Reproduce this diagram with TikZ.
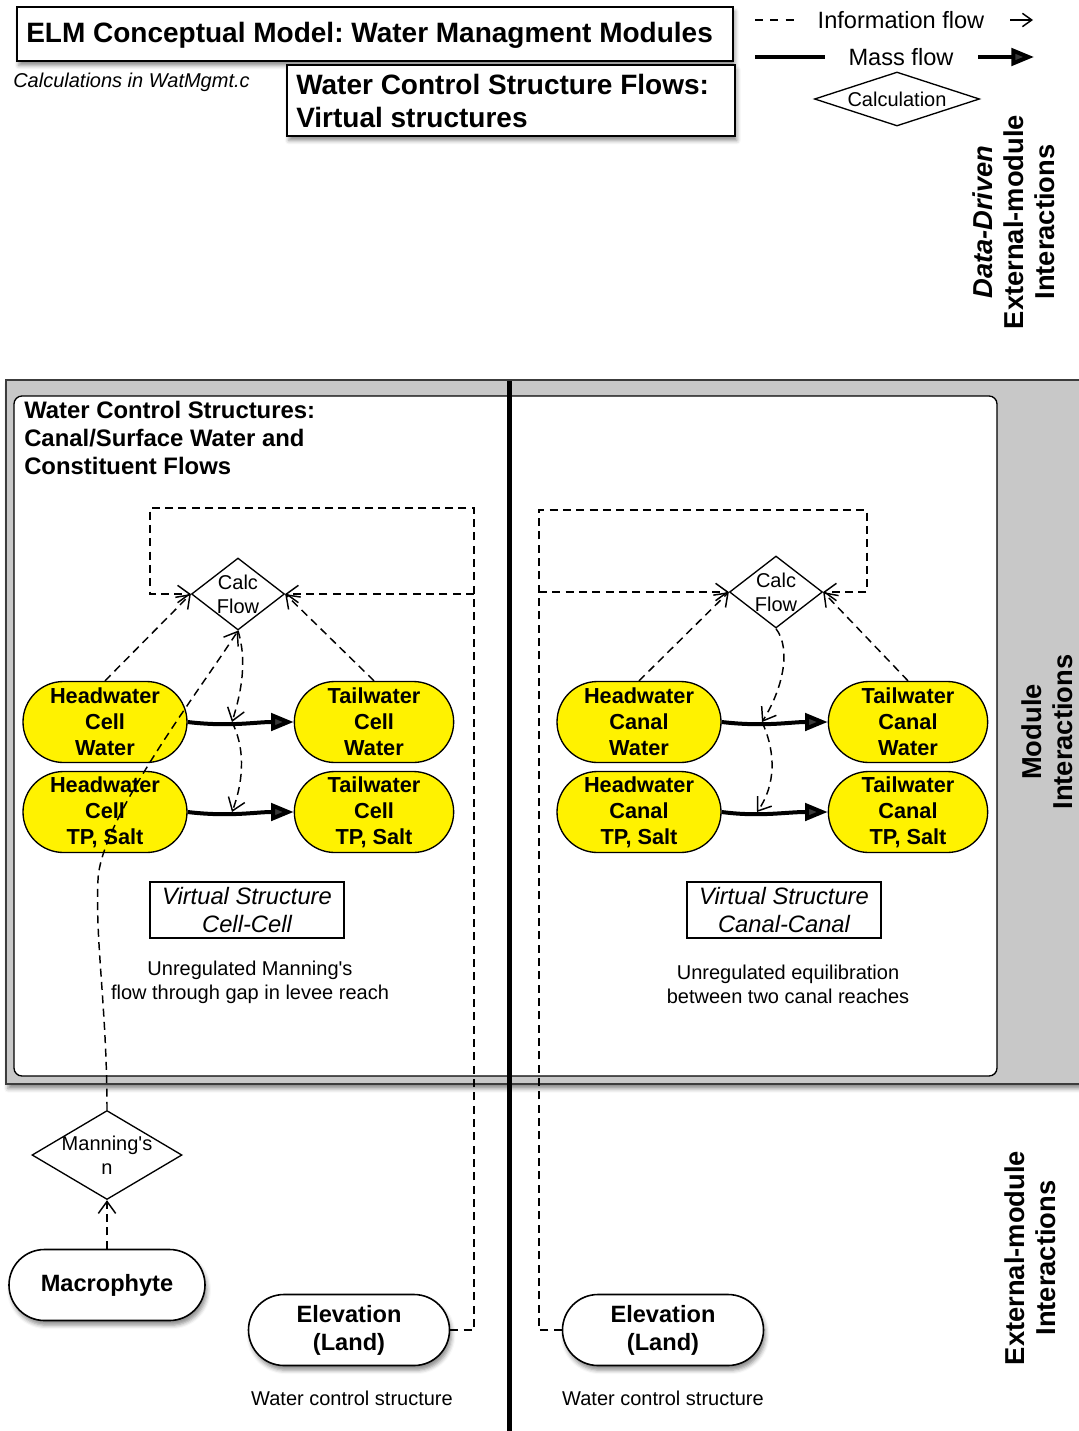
\documentclass[tikz,border=0pt]{standalone}
\usepackage{fontspec}
\setmainfont{Liberation Sans}
\usetikzlibrary{arrows.meta,shapes.misc,shapes.geometric,shadows.blur}
\definecolor{bandgray}{RGB}{200,200,200}
\definecolor{banddark}{RGB}{60,60,60}
\newcommand{\fsz}[2]{\fontsize{#1}{#2}\selectfont}
\frenchspacing
\begin{document}
\begin{tikzpicture}[x=0.75pt,y=-0.75pt,
  info/.style={line width=1.1pt, dash pattern=on 6pt off 4pt},
  infoarrow/.style={info, -{Straight Barb[length=9pt,width=13pt]}},
  mass/.style={line width=3pt, -{Triangle[length=17pt,width=13pt]}},
  shad/.style={blur shadow={shadow xshift=1.5pt, shadow yshift=-3.5pt, shadow blur radius=3pt, shadow opacity=45}},
  ynode/.style={rounded rectangle, rounded rectangle arc length=180, draw, line width=1pt, fill=yellow, minimum width=123pt, minimum height=60.75pt, inner sep=0pt, align=center, font=\fsz{16.3pt}{19.5pt}\bfseries},
  wnode/.style={rounded rectangle, rounded rectangle arc length=180, draw, line width=1.2pt, fill=white, shad, minimum height=53.25pt, inner sep=0pt, align=center, font=\fsz{17.7pt}{21pt}\bfseries},
  calcshape/.style={diamond, draw, line width=1pt, inner sep=0pt, fill=white},
  ctext/.style={align=center, font=\fsz{15pt}{18pt}, inner sep=0pt},
  rtext/.style={rotate=90, align=center, font=\fsz{20.5pt}{23.25pt}\bfseries, inner sep=0pt},
  vbox/.style={draw, line width=1pt, fill=white, minimum width=145.5pt, minimum height=42pt, align=center, font=\fsz{17.8pt}{21pt}\itshape, inner sep=0pt},
  ptext/.style={align=center, font=\fsz{15pt}{18pt}, inner sep=0pt},
]
\useasboundingbox (0,0) rectangle (1078,1431);

% ---- module band and panel
\path[fill=bandgray, draw=banddark, line width=1.2pt, shad] (6,380) rectangle (1095,1084);
\path[fill=white, draw=black, line width=1pt, rounded corners=6pt] (14,396) rectangle (997,1076);

% ---- titles
\node[draw, line width=1.2pt, fill=white, shad, anchor=north west, minimum width=537pt, minimum height=40.5pt, inner sep=0pt] (titlebox) at (16,6) {};
\node[anchor=west, inner sep=0pt, font=\fsz{21pt}{24.75pt}\bfseries] (titletext) at (26,35) {ELM Conceptual Model: Water Managment Modules};
\node[anchor=west, inner sep=0pt, font=\fsz{15pt}{18pt}\itshape] (calcin) at (13,82) {Calculations in WatMgmt.c};
\node[draw, line width=1.2pt, fill=white, shad, anchor=north west, minimum width=336pt, minimum height=53.25pt, inner sep=0pt] (subbox) at (286,64) {};
\node[anchor=west, align=left, inner sep=0pt, font=\fsz{21pt}{24.75pt}\bfseries] (subtext) at (296,101) {Water Control Structure Flows:\\Virtual structures};

% ---- legend
\coordinate (lgA1) at (755,20); \coordinate (lgA2) at (797,20);
\draw[line width=1.1pt, dash pattern=on 6pt off 5.5pt] (lgA1) -- (lgA2);
\node[ptext, font=\fsz{17.7pt}{21pt}] (lginfo) at (901,20) {Information flow};
\coordinate (lgB1) at (1010,20); \coordinate (lgB2) at (1033,20);
\draw[line width=1.1pt, -{Straight Barb[length=7pt,width=10pt]}] (lgB1) -- (lgB2);
\coordinate (lgC1) at (755,57); \coordinate (lgC2) at (825,57);
\draw[line width=3pt] (lgC1) -- (lgC2);
\node[ptext, font=\fsz{17.7pt}{21pt}] (lgmass) at (901,57) {Mass flow};
\coordinate (lgD1) at (978,57); \coordinate (lgD2) at (1034,57);
\draw[mass] (lgD1) -- (lgD2);
\node[calcshape, minimum width=123.75pt, minimum height=40.5pt] (lgcalc) at (897,99) {};
\node[ctext] (lgcalct) at (lgcalc) {Calculation};

\node[rtext] (ddlabel) at (1014,222) {\textit{Data-Driven}\\External-module\\Interactions};

% ---- panel title
\node[anchor=west, align=left, inner sep=0pt, font=\fsz{17.9pt}{21pt}\bfseries] (wcs) at (24,438) {Water Control Structures:\\Canal/Surface Water and\\Constituent Flows};

% ---- left panel
\node[calcshape, minimum width=69.75pt, minimum height=54pt] (cfL) at (238,594) {};
\node[ctext] (cfLt) at (cfL) {Calc\\Flow};
\node[ynode] (hcw) at (105,722) {Headwater\\Cell\\Water};
\node[ynode] (hcs) at (105,812) {Headwater\\Cell\\TP, Salt};
\node[ynode, minimum width=119.5pt] (tcw) at (374,722) {Tailwater\\Cell\\Water};
\node[ynode, minimum width=119.5pt] (tcs) at (374,812) {Tailwater\\Cell\\TP, Salt};
\node[vbox] (vsL) at (247,910) {Virtual Structure\\Cell-Cell};
\node[ptext] (uL) at (250,982) {Unregulated Manning\textquotesingle s\\flow through gap in levee reach};

% ---- right panel
\node[calcshape, minimum width=69.75pt, minimum height=54pt] (cfR) at (776,592) {};
\node[ctext] (cfRt) at (cfR) {Calc\\Flow};
\node[ynode] (hcwR) at (639,722) {Headwater\\Canal\\Water};
\node[ynode] (hcsR) at (639,812) {Headwater\\Canal\\TP, Salt};
\node[ynode, minimum width=119.5pt] (tcwR) at (908,722) {Tailwater\\Canal\\Water};
\node[ynode, minimum width=119.5pt] (tcsR) at (908,812) {Tailwater\\Canal\\TP, Salt};
\node[vbox] (vsR) at (784,910) {Virtual Structure\\Canal-Canal};
\node[ptext] (uR) at (788,984) {Unregulated equilibration\\between two canal reaches};

\node[rtext] (modint) at (1047,732) {Module\\Interactions};

% ---- external modules
\node[calcshape, minimum width=112.5pt, minimum height=66.75pt] (man) at (107,1155) {};
\node[ctext] (mant) at (man) {Manning\textquotesingle s\\n};
\node[wnode, minimum width=147pt] (mac) at (107,1285) {Macrophyte};
\node[wnode, minimum width=150.75pt] (eL) at (349,1330) {Elevation\\(Land)};
\node[ptext] (wcsL) at (352,1398) {Water control structure};
\node[wnode, minimum width=150.75pt] (eR) at (663,1330) {Elevation\\(Land)};
\node[ptext] (wcsR) at (663,1398) {Water control structure};
\node[rtext] (extint) at (1030,1258) {External-module\\Interactions};

% ---- connectors left
\coordinate (jL) at (474,594);
\draw[infoarrow] (eL.east) -- (474,1330) -- (474,508) -- (150,508) -- (150,594) -- (cfL.west);
\draw[infoarrow] (jL) -- (cfL.east);
\draw[infoarrow] (hcw.north) -- (cfL.west);
\draw[infoarrow] (tcw.north) -- (cfL.east);
\draw[mass] (hcw.east) .. controls (230,727) and (255,722) .. (tcw.west);
\draw[mass] (hcs.east) .. controls (230,817) and (255,812) .. (tcs.west);
\coordinate (mL1) at (232,722);
\coordinate (mL2) at (232,812);
\draw[infoarrow] (cfL.south) .. controls (247,660) and (242,690) .. (mL1);
\draw[infoarrow] (mL1) .. controls (247,752) and (242,785) .. (mL2);
\draw[infoarrow] (mac.north) -- (man.south);
\draw[infoarrow] (man.north) .. controls (107,1010) and (95,940) .. (98,880) .. controls (100,820) and (200,690) .. (cfL.south);

% ---- connectors right
\coordinate (jR) at (539,592);
\draw[infoarrow] (eR.west) -- (539,1330) -- (539,510) -- (867,510) -- (867,592) -- (cfR.east);
\draw[infoarrow] (jR) -- (cfR.west);
\draw[infoarrow] (hcwR.north) -- (cfR.west);
\draw[infoarrow] (tcwR.north) -- (cfR.east);
\draw[mass] (hcwR.east) .. controls (765,727) and (790,722) .. (tcwR.west);
\draw[mass] (hcsR.east) .. controls (760,817) and (785,812) .. (tcsR.west);
\coordinate (mR1) at (762,722);
\coordinate (mR2) at (757,812);
\draw[infoarrow] (cfR.south) .. controls (792,650) and (782,690) .. (mR1);
\draw[infoarrow] (mR1) .. controls (776,752) and (776,785) .. (mR2);

% ---- divider
\coordinate (vtop) at (509,381);
\coordinate (vbot) at (509,1431);
\draw[line width=3.75pt] (vtop) -- (vbot);
\end{tikzpicture}
\end{document}
